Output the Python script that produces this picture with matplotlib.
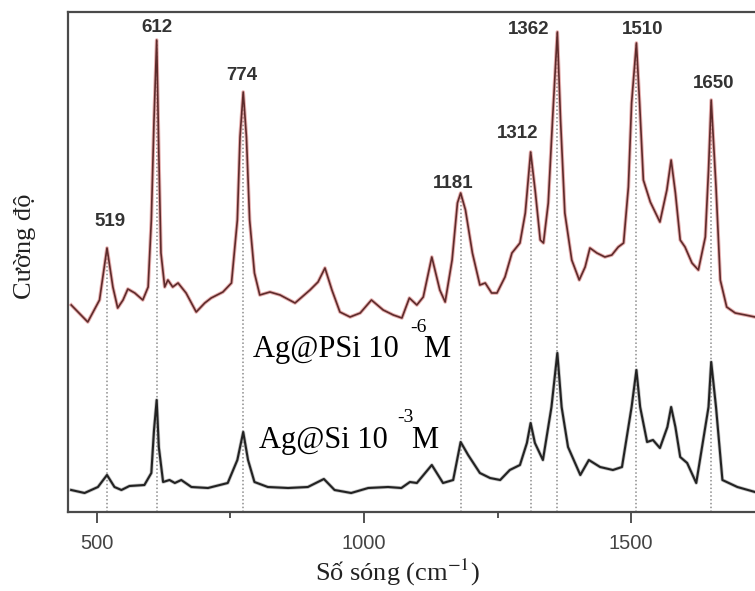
import matplotlib
matplotlib.use("Agg")
import matplotlib.pyplot as plt
from matplotlib.ticker import MultipleLocator

# ---- data (wavenumber cm-1, intensity a.u.) ----
red_w = [452, 483, 505, 519, 530, 539, 549, 558, 571, 586, 596, 602, 607, 612, 616, 620,
         627, 633, 642, 652, 658, 667, 686, 702, 714, 736, 752, 763, 768, 774, 780, 786,
         795, 805, 824, 843, 871, 899, 914, 927, 940, 955, 974, 993, 1014, 1036, 1055,
         1071, 1085, 1099, 1111, 1127, 1142, 1152, 1165, 1175, 1181, 1190, 1203, 1217,
         1227, 1239, 1249, 1264, 1277, 1292, 1302, 1312, 1321, 1330, 1336, 1345, 1353,
         1362, 1368, 1376, 1389, 1403, 1414, 1423, 1436, 1451, 1464, 1476, 1486, 1495,
         1501, 1510, 1516, 1523, 1536, 1554, 1567, 1575, 1583, 1592, 1601, 1614, 1626,
         1639, 1645, 1650, 1659, 1667, 1679, 1695, 1714, 1732]
red_i = [207, 190, 212, 264, 225, 204, 212, 223, 219, 212, 225, 292, 392, 472, 359, 259,
         225, 232, 225, 229, 225, 219, 200, 209, 214, 220, 229, 292, 375, 420, 375, 292,
         239, 217, 220, 217, 209, 222, 230, 244, 222, 200, 195, 199, 212, 202, 197,
         194, 214, 207, 215, 255, 222, 210, 252, 309, 319, 302, 259, 227,
         229, 219, 219, 235, 259, 269, 299, 360, 319, 272, 269, 309, 392,
         480, 392, 299, 252, 232, 245, 264, 259, 255, 257, 265, 269, 325,
         409, 469, 409, 332, 310, 290, 322, 352, 319, 272, 265, 249, 242,
         275, 342, 412, 325, 232, 205, 199, 197, 195]

blk_w = [452, 477, 502, 519, 533, 546, 561, 589, 602, 607, 612, 616, 624, 636, 646, 658,
         677, 708, 745, 763, 774, 783, 795, 820, 858, 895, 925, 945, 976, 1008, 1045,
         1070, 1086, 1099, 1127, 1148, 1167, 1181, 1195, 1217, 1236, 1255, 1273, 1292,
         1305, 1312, 1320, 1335, 1351, 1362, 1370, 1382, 1405, 1421, 1442, 1466, 1483,
         1501, 1510, 1517, 1530, 1541, 1554, 1568, 1575, 1583, 1592, 1605, 1622, 1645,
         1650, 1659, 1671, 1699, 1732]
blk_i = [22, 19, 25, 37, 25, 22, 26, 27, 39, 82, 112, 65, 30, 32, 29, 32,
         25, 24, 29, 52, 80, 52, 30, 25, 24, 25, 33, 22, 19, 24, 25,
         24, 30, 29, 47, 29, 32, 70, 57, 39, 34, 32, 42, 47,
         69, 89, 69, 52, 105, 159, 105, 65, 37, 52, 45, 42, 45,
         105, 142, 105, 70, 72, 64, 85, 105, 85, 55, 49, 29, 105,
         150, 105, 32, 25, 20]

peaks = [519, 612, 774, 1181, 1312, 1362, 1510, 1650]
peak_tops = [264, 472, 420, 319, 360, 480, 469, 412]
peak_labels = ["519", "612", "774", "1181", "1312", "1362", "1510", "1650"]
label_x = [524, 613, 772, 1167, 1287, 1308, 1522, 1655]
label_y = [290, 485, 436, 329, 379, 482, 482, 429]

xticks = [500, 1000, 1500]
xlabel = "Số sóng (cm$^{-1}$)"
ylabel = "Cường độ"

# ---- figure ----
plt.rcParams['mathtext.fontset'] = 'stix'
fig = plt.figure(figsize=(7.55, 5.91), dpi=100)
ax = fig.add_axes([68 / 755, 79 / 591, 1 - 68 / 755, 500 / 591])
ax.set_xlim(446, 1732)
ax.set_ylim(0, 500)

for w, t in zip(peaks, peak_tops):
    ax.plot([w, w], [0, t], linestyle=(0, (1, 1.5)), color='#8c8c8c', lw=1.1, zorder=1)

ax.plot(red_w, red_i, color='#d67a7a', lw=2.6, alpha=0.6, zorder=2, solid_joinstyle='round')
ax.plot(red_w, red_i, color='#5e2b2b', lw=1.2, zorder=3, solid_joinstyle='round')
ax.plot(blk_w, blk_i, color='#9a9a9a', lw=2.6, alpha=0.6, zorder=2, solid_joinstyle='round')
ax.plot(blk_w, blk_i, color='#222222', lw=1.5, zorder=3, solid_joinstyle='round')

lab_font = dict(family=['Liberation Sans', 'DejaVu Sans'], fontsize=13.5, color='#333333',
                fontweight='bold')
for s, x, y in zip(peak_labels, label_x, label_y):
    ax.text(x, y, s, ha='center', va='center', **lab_font)

serif = ['Liberation Serif', 'DejaVu Serif']
ax.text(792, 155, "Ag@PSi 10", family=serif, fontsize=22, va='baseline', ha='left', color='black')
ax.text(1086, 180, "-6", family=serif, fontsize=14, va='baseline', ha='left', color='black')
ax.text(1110, 155, "M", family=serif, fontsize=22, va='baseline', ha='left', color='black')
ax.text(803, 64, "Ag@Si 10", family=serif, fontsize=22, va='baseline', ha='left', color='black')
ax.text(1062, 90, "-3", family=serif, fontsize=14, va='baseline', ha='left', color='black')
ax.text(1089, 64, "M", family=serif, fontsize=22, va='baseline', ha='left', color='black')

ax.set_xticks(xticks)
ax.xaxis.set_minor_locator(MultipleLocator(250))
ax.tick_params(axis='x', which='major', direction='out', length=8, width=1.3, colors='#444444',
               labelsize=14.5, pad=8)
ax.tick_params(axis='x', which='minor', direction='out', length=4, width=1.3, colors='#444444')
for lbl in ax.get_xticklabels():
    lbl.set_family(['Liberation Sans', 'DejaVu Sans'])
ax.set_yticks([])

for side in ['left', 'top', 'bottom']:
    ax.spines[side].set_color('#4a4a4a')
    ax.spines[side].set_linewidth(1.6)
ax.spines['right'].set_visible(False)

fig.text(397 / 755, 1 - 572 / 591, xlabel, family=serif, fontsize=19, ha='center', va='center',
         color='#222222')
fig.text(25 / 755, 1 - 246 / 591, ylabel, family=serif, fontsize=19, ha='center', va='center',
         rotation=90, color='#222222')

fig.savefig("out.png", dpi=100)
